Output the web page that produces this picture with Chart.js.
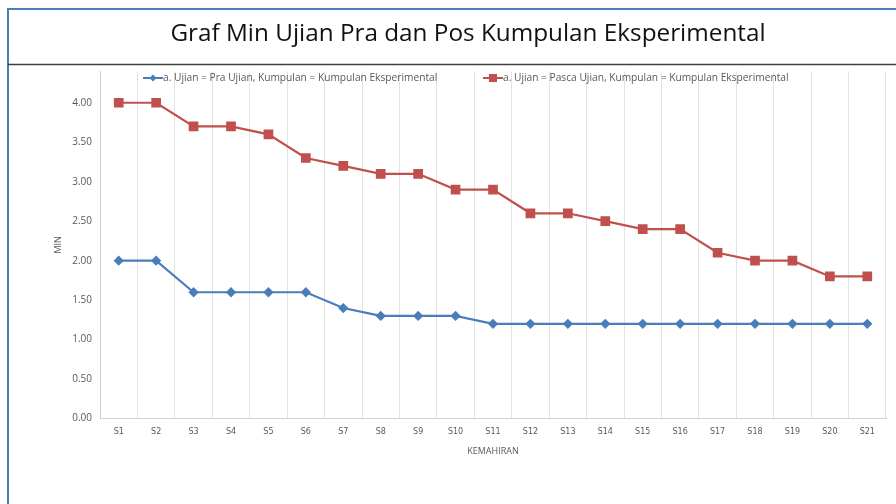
<!DOCTYPE html>
<html>
<head>
<meta charset="utf-8">
<script src="https://cdn.jsdelivr.net/npm/chart.js@4"></script>
<style>
  html, body { margin: 0; padding: 0; background: #fff; }
  #wrap { position: relative; width: 896px; height: 504px; }
</style>
</head>
<body>
<div id="wrap"><canvas id="myChart" width="896" height="504"></canvas></div>
<script>
// data
var kemahiran = ['S1', 'S2', 'S3', 'S4', 'S5', 'S6', 'S7', 'S8', 'S9', 'S10', 'S11',
                 'S12', 'S13', 'S14', 'S15', 'S16', 'S17', 'S18', 'S19', 'S20', 'S21'];
var praUjian = [2.0, 2.0, 1.6, 1.6, 1.6, 1.6, 1.4, 1.3, 1.3, 1.3, 1.2,
                1.2, 1.2, 1.2, 1.2, 1.2, 1.2, 1.2, 1.2, 1.2, 1.2];
var pascaUjian = [4.0, 4.0, 3.7, 3.7, 3.6, 3.3, 3.2, 3.1, 3.1, 2.9, 2.9,
                  2.6, 2.6, 2.5, 2.4, 2.4, 2.1, 2.0, 2.0, 1.8, 1.8];
var labelPra = 'a. Ujian = Pra Ujian, Kumpulan = Kumpulan Eksperimental';
var labelPasca = 'a. Ujian = Pasca Ujian, Kumpulan = Kumpulan Eksperimental';

var blue = '#4a7ebb';
var red = '#c0504d';

// frame lines, title rule and the legend sitting inside the plot
const framePlugin = {
  id: 'frame',
  afterDraw(chart) {
    const g = chart.ctx;
    g.save();
    g.strokeStyle = blue;
    g.lineWidth = 2;
    g.beginPath();
    g.moveTo(8, 504); g.lineTo(8, 9); g.lineTo(896, 9);
    g.stroke();
    g.strokeStyle = '#404040';
    g.lineWidth = 1.5;
    g.beginPath();
    g.moveTo(8, 64.5); g.lineTo(896, 64.5);
    g.stroke();

    // legend
    const items = chart.data.datasets;
    const starts = [143, 483];
    const y = 78;
    g.font = '10.2px "Open Sans"';
    g.textBaseline = 'middle';
    items.forEach(function (ds, i) {
      const x = starts[i];
      g.strokeStyle = ds.borderColor;
      g.fillStyle = ds.borderColor;
      g.lineWidth = 2;
      g.beginPath(); g.moveTo(x, y); g.lineTo(x + 20, y); g.stroke();
      if (ds.pointStyle === 'rect') {
        g.fillRect(x + 6, y - 4, 8, 8);
      } else {
        g.beginPath(); g.moveTo(x + 10, y - 3.5); g.lineTo(x + 13.5, y); g.lineTo(x + 10, y + 3.5); g.lineTo(x + 6.5, y); g.closePath(); g.fill();
      }
      g.fillStyle = '#595959';
      g.fillText(ds.label, x + 20, y);
    });
    g.restore();
  }
};

const ctx = document.getElementById('myChart');
const myChart = new Chart(ctx, {
  type: 'line',
  data: {
    labels: kemahiran,
    datasets: [{
      label: labelPra,
      data: praUjian,
      borderColor: blue,
      backgroundColor: blue,
      borderWidth: 2.2,
      pointStyle: 'rectRot',
      pointRadius: 3.6,
      pointHoverRadius: 3.6
    }, {
      label: labelPasca,
      data: pascaUjian,
      borderColor: red,
      backgroundColor: red,
      borderWidth: 2.2,
      pointStyle: 'rect',
      pointRadius: 5.3,
      pointHoverRadius: 5.3
    }]
  },
  plugins: [framePlugin],
  options: {
    responsive: false,
    animation: false,
    layout: {
      padding: { top: 8, left: 50, right: 10, bottom: 43 }
    },
    plugins: {
      title: {
        display: true,
        text: 'Graf Min Ujian Pra dan Pos Kumpulan Eksperimental',
        color: '#111',
        font: { family: 'Open Sans', size: 24.3, weight: 'normal' },
        padding: { top: 11, bottom: 23 }
      },
      legend: { display: false },
      tooltip: { enabled: false }
    },
    scales: {
      x: {
        offset: true,
        grid: {
          offset: true,
          color: '#e3e3e3',
          drawTicks: false
        },
        border: { color: '#d0d0d0' },
        ticks: {
          color: '#595959',
          font: { family: 'DejaVu Sans', size: 8 },
          padding: 9,
          maxRotation: 0
        },
        title: {
          display: true,
          text: 'KEMAHIRAN',
          color: '#595959',
          font: { family: 'Open Sans', size: 9 },
          padding: { top: 0 }
        }
      },
      y: {
        min: 0,
        max: 4.4,
        grid: { display: false, drawTicks: false },
        border: { color: '#d0d0d0' },
        afterBuildTicks(axis) {
          axis.ticks = axis.ticks.filter(function (t) { return t.value <= 4.0001; });
        },
        afterFit(axis) {
          axis.width = 50;
        },
        ticks: {
          stepSize: 0.5,
          color: '#595959',
          font: { family: 'Open Sans', size: 10 },
          padding: 8,
          callback: function (v) { return Number(v).toFixed(2); }
        },
        title: {
          display: true,
          text: 'MIN',
          color: '#595959',
          font: { family: 'Open Sans', size: 9 },
          padding: { top: 3, bottom: 0 }
        }
      }
    }
  }
});
</script>
</body>
</html>
